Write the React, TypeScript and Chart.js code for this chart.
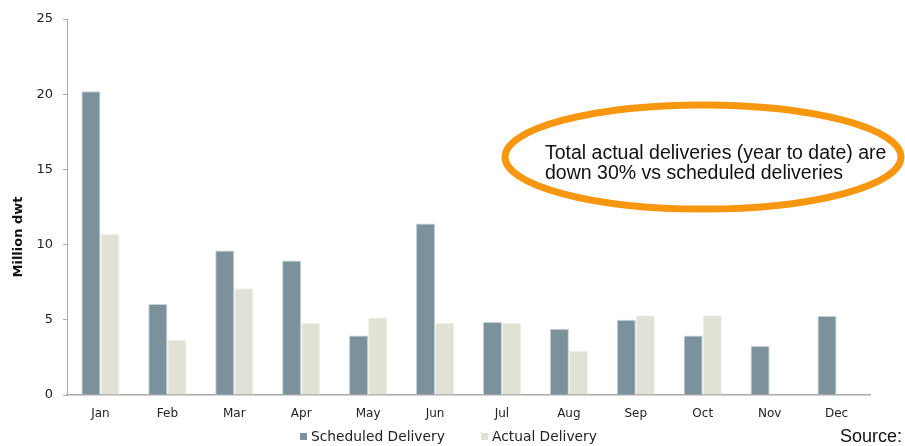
import React, { useEffect, useRef } from "react";
import { Chart, registerables } from "chart.js";

Chart.register(...registerables);

const months = ["Jan", "Feb", "Mar", "Apr", "May", "Jun", "Jul", "Aug", "Sep", "Oct", "Nov", "Dec"];
const scheduled = [20.2, 6.05, 9.6, 8.95, 3.95, 11.4, 4.85, 4.4, 5.0, 3.95, 3.25, 5.25];
const actual: (number | null)[] = [10.7, 3.65, 7.1, 4.8, 5.15, 4.8, 4.8, 2.95, 5.3, 5.3, null, null];
const yTicks = [0, 5, 10, 15, 20, 25];
const yTitle = "Million dwt";
const seriesNames = ["Scheduled Delivery", "Actual Delivery"];
const seriesColors = ["#7b919c", "#e1e2d5"];
const noteLines = ["Total actual deliveries (year to date) are", "down 30% vs scheduled deliveries"];
const sourceText = "Source:";

const overlay = {
  id: "overlay",
  afterDraw(chart: any) {
    const ctx = chart.ctx;
    ctx.save();
    // y-axis title
    ctx.save();
    ctx.translate(18.5, 237);
    ctx.rotate(-Math.PI / 2);
    ctx.fillStyle = "#111";
    ctx.font = "bold 13px 'DejaVu Sans', Verdana, sans-serif";
    ctx.textAlign = "center";
    ctx.textBaseline = "middle";
    ctx.fillText(yTitle, 0, 0);
    ctx.restore();
    // annotation ellipse
    ctx.strokeStyle = "#f7960f";
    ctx.lineWidth = 7;
    ctx.beginPath();
    ctx.ellipse(703, 157, 198, 52, 0, 0, Math.PI * 2);
    ctx.stroke();
    ctx.fillStyle = "#111";
    ctx.font = "19.5px 'Liberation Sans', Arial, sans-serif";
    ctx.textBaseline = "middle";
    ctx.textAlign = "left";
    ctx.fillText(noteLines[0], 545, 154);
    ctx.fillText(noteLines[1], 545, 174);
    ctx.font = "18px 'Liberation Sans', Arial, sans-serif";
    ctx.fillText(sourceText, 840, 437);
    // legend
    ctx.font = "13.8px 'DejaVu Sans', Verdana, sans-serif";
    const boxX = [300, 481];
    for (let i = 0; i < seriesNames.length; i++) {
      ctx.fillStyle = seriesColors[i];
      ctx.fillRect(boxX[i], 433, 7, 7);
      ctx.fillStyle = "#222";
      ctx.fillText(seriesNames[i], boxX[i] + 11, 437);
    }
    ctx.restore();
  },
};

export default function App() {
  const ref = useRef<HTMLCanvasElement>(null);
  useEffect(() => {
    const chart = new Chart(ref.current!, {
      type: "bar",
      data: {
        labels: months,
        datasets: [
          {
            label: seriesNames[0],
            data: scheduled,
            backgroundColor: seriesColors[0],
            borderColor: "#c7d1d6",
            borderWidth: 1,
            categoryPercentage: 0.57,
            barPercentage: 1.0,
          },
          {
            label: seriesNames[1],
            data: actual,
            backgroundColor: seriesColors[1],
            borderColor: "#eeefe6",
            borderWidth: 1,
            categoryPercentage: 0.57,
            barPercentage: 1.0,
          },
        ],
      },
      options: {
        animation: false,
        responsive: true,
        maintainAspectRatio: false,
        layout: { padding: { top: 19, right: 35, left: 0, bottom: 0 } },
        plugins: {
          tooltip: { enabled: false },
          legend: { display: false },
        },
        scales: {
          x: {
            grid: { display: false },
            border: { display: true, color: "#aaa", width: 1.5 },
            ticks: {
              color: "#222",
              padding: 4,
              font: { family: "'DejaVu Sans', Verdana, sans-serif", size: 12 },
            },
            afterFit(scale: any) {
              scale.height = 51;
            },
          },
          y: {
            min: 0,
            max: 25,
            afterBuildTicks(scale: any) {
              scale.ticks = yTicks.map((v) => ({ value: v }));
            },
            grid: { display: true, drawOnChartArea: false, drawTicks: true, tickLength: 4, color: "#aaa" },
            border: { display: true, color: "#aaa", width: 1 },
            ticks: {
              color: "#222",
              padding: 10,
              font: { family: "'DejaVu Sans', Verdana, sans-serif", size: 13 },
            },
            afterFit(scale: any) {
              scale.width = 67;
            },
          },
        },
      },
      plugins: [overlay],
    });
    return () => chart.destroy();
  }, []);
  return (
    <div style={{ position: "fixed", left: 0, top: 0, width: 905, height: 446, background: "#fff" }}>
      <canvas ref={ref} />
    </div>
  );
}
